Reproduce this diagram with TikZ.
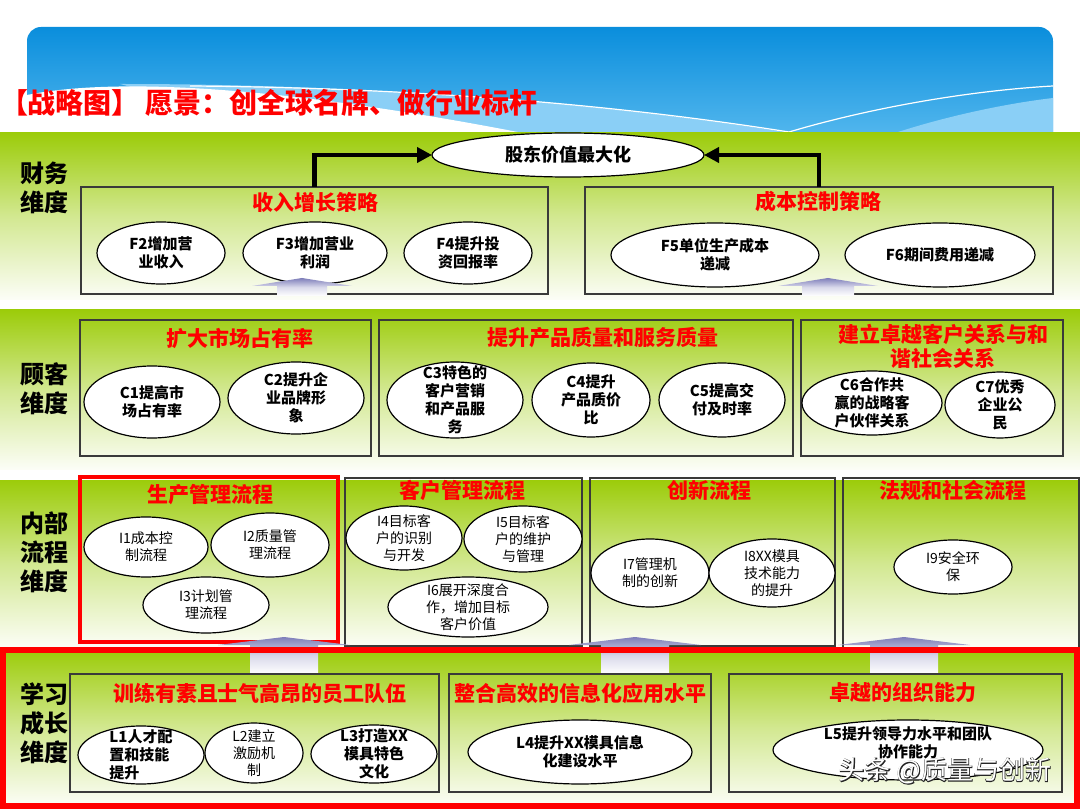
\documentclass[tikz,border=0pt]{standalone}
\usepackage{fontspec}
\setmainfont{Noto Sans CJK SC}
\newfontfamily\markedge[FakeBold=4]{Noto Sans CJK SC}
\usetikzlibrary{shapes.geometric,arrows.meta}
\definecolor{bandgreen}{HTML}{9CCC0A}
\definecolor{skytop}{HTML}{0A8EDC}
\definecolor{skybot}{HTML}{5CBCF0}
\definecolor{skylight}{HTML}{8ACFF6}
\definecolor{boxline}{HTML}{3A3A3A}
\definecolor{liftblue}{HTML}{7E7EBA}
\tikzset{every node/.style={inner sep=0pt,outer sep=0pt,font=\fontsize{15}{18}\selectfont},
  panel/.style={draw=boxline,line width=1.5pt},
  redpanel/.style={draw=red,line width=3.5pt},
  aim/.style={ellipse,draw=black,fill=white,line width=1.2pt},
  aimtxt/.style={align=center,font=\fontsize{15}{18}\selectfont\bfseries},
  proctxt/.style={align=center,font=\fontsize{14}{17}\selectfont},
  ptitle/.style={text=red,align=center,font=\fontsize{21}{24}\selectfont\bfseries},
  dimlabel/.style={align=center,font=\fontsize{24}{29}\selectfont\bfseries}}
\newcommand{\band}[2]{%
  \shade[top color=bandgreen,bottom color=white!97!bandgreen,middle color=bandgreen!45!white]
    (0,#1) rectangle (1080,#2);}
\newcommand{\stratbox}[8][panel]{%
  \pgfmathsetmacro{\bw}{#5-#3}\pgfmathsetmacro{\bh}{#6-#4}%
  \node[#1,minimum width=\bw pt,minimum height=\bh pt] (#2) at ({(#3+#5)/2},{(#4+#6)/2}) {};
  \node[ptitle] (#2t) at (#7) {#8};}
\newcommand{\aim}[7][aimtxt]{%
  \node[aim,minimum width={2*#5pt},minimum height={2*#6pt}] (#2) at (#3,#4) {};
  \node[#1] (#2t) at (#2) {#7};}
\newcommand{\lift}[5]{%
  \shade[top color=liftblue,bottom color=white,middle color=liftblue!30!white]
    (#1,#2) -- ({#1+#4},{#2+8}) -- ({#1+#5},{#2+8}) -- ({#1+#5},#3)
    -- ({#1-#5},#3) -- ({#1-#5},{#2+8}) -- ({#1-#4},{#2+8}) -- cycle;}

\begin{document}
\begin{tikzpicture}[x=1pt,y=-1pt,
    flow/.style={line width=4.5pt,-{Triangle[length=15pt,width=15pt]}},
    wmark/.style={font=\fontsize{26}{28}\selectfont}]
  \path[use as bounding box] (0,0) rectangle (1080,810);

  % Banner
  \shade[top color=skytop,bottom color=skybot,rounded corners=14pt] (27,27) rectangle (1053,150);
  \fill[skylight] (120,84) .. controls (380,84) and (620,105) .. (790,133) -- (300,133) -- cycle;
  \fill[skylight] (895,133) .. controls (950,115) and (1010,103) .. (1053,98) -- (1053,133) -- cycle;
  \fill[white] (27,95) .. controls (110,78) and (270,84) .. (523,133) -- (27,133) -- cycle;
  \draw[white,line width=1.2pt] (190,86) .. controls (450,88) and (650,110) .. (789,132)
    .. controls (880,105) and (980,90) .. (1053,86);

  % Bands
  \band{133}{300}
  \band{310}{470}
  \band{480}{648}
  \band{650}{806}

  \node[anchor=west,text=red,font=\fontsize{28}{30}\selectfont\bfseries] (headline) at (0,103)
    {【战略图】\hspace{6pt}愿景：创全球名牌、做行业标杆};

  \node[dimlabel] (dimfin) at (44,188) {财务\\维度};
  \node[dimlabel] (dimcus) at (44,389) {顾客\\维度};
  \node[dimlabel] (dimpro) at (44,552) {内部\\流程\\维度};
  \node[dimlabel] (dimlrn) at (44,723) {学习\\成长\\维度};

  % Financial
  \node[aim,minimum width=272pt,minimum height=44pt,font=\fontsize{18}{20}\selectfont\bfseries]
    (goal) at (568,155) {股东价值最大化};
  \stratbox{rev}{81}{187}{548}{294}{315,202}{收入增长策略}
  \stratbox{cost}{585}{187}{1053}{294}{818,202}{成本控制策略}
  \aim{f2}{161}{253}{64}{31}{F2增加营\\业收入}
  \aim{f3}{315}{253}{72}{31}{F3增加营业\\利润}
  \aim{f4}{468}{253}{64}{31}{F4提升投\\资回报率}
  \aim{f5}{715}{255}{104}{32}{F5单位生产成本\\递减}
  \aim{f6}{940}{255}{95}{32}{F6期间费用递减}
  \lift{302}{278}{296}{50}{25}
  \lift{828}{278}{296}{50}{26}
  \draw[flow] (rev.north) |- (goal.west);
  \draw[flow] (cost.north) |- (goal.east);

  % Customer
  \stratbox{share}{80}{320}{371}{456}{240,338}{扩大市场占有率}
  \stratbox{quality}{379}{320}{793}{456}{603,338}{提升产品质量和服务质量}
  \stratbox{bond}{801}{320}{1063}{456}{943,346}{建立卓越客户关系与和\\谐社会关系}
  \aim{c1}{152}{402}{68}{36}{C1提高市\\场占有率}
  \aim{c2}{296}{398}{68}{36}{C2提升企\\业品牌形\\象}
  \aim{c3}{455}{400}{68}{38}{C3特色的\\客户营销\\和产品服\\务}
  \aim{c4}{591}{400}{59}{37}{C4提升\\产品质价\\比}
  \aim{c5}{722}{400}{63}{37}{C5提高交\\付及时率}
  \aim{c6}{872}{403}{70}{32}{C6合作共\\赢的战略客\\户伙伴关系}
  \aim{c7}{1000}{405}{55}{33}{C7优秀\\企业公\\民}

  % Internal process
  \stratbox[redpanel]{make}{80}{477}{338}{642}{210,495}{生产管理流程}
  \stratbox{client}{345}{478}{582}{646}{462,490}{客户管理流程}
  \stratbox{novel}{590}{478}{835}{646}{709,490}{创新流程}
  \stratbox{rule}{843}{478}{1079}{650}{953,490}{法规和社会流程}
  \aim[proctxt]{i1}{146}{547}{62}{30}{I1成本控\\制流程}
  \aim[proctxt]{i2}{270}{545}{59}{32}{I2质量管\\理流程}
  \aim[proctxt]{i3}{206}{605}{63}{28}{I3计划管\\理流程}
  \aim[proctxt]{i4}{404}{538}{58}{32}{I4目标客\\户的识别\\与开发}
  \aim[proctxt]{i5}{523}{539}{59}{33}{I5目标客\\户的维护\\与管理}
  \aim[proctxt]{i6}{468}{607}{80}{30}{I6展开深度合\\作，增加目标\\客户价值}
  \aim[proctxt]{i7}{650}{573}{59}{34}{I7管理机\\制的创新}
  \aim[proctxt]{i8}{772}{573}{63}{34}{I8XX模具\\技术能力\\的提升}
  \aim[proctxt]{i9}{953}{567}{59}{27}{I9安全环\\保}

  % Learning and growth
  \lift{284}{637}{674}{66}{34}
  \lift{635}{637}{674}{66}{34}
  \lift{904}{637}{674}{66}{34}
  \stratbox{staff}{70}{674}{439}{792}{260,693}{训练有素且士气高昂的员工队伍}
  \stratbox{info}{449}{674}{711}{792}{580,693}{整合高效的信息化应用水平}
  \stratbox{org}{729}{674}{1062}{792}{903,693}{卓越的组织能力}
  \aim[aimtxt,align=left]{l1}{141}{755}{63}{29}{L1人才配\\置和技能\\提升}
  \aim[proctxt]{l2}{254}{753}{49}{30}{L2建立\\激励机\\制}
  \aim{l3}{374}{754}{63}{29}{L3打造XX\\模具特色\\文化}
  \aim{l4}{580}{752}{112}{32}{L4提升XX模具信息\\化建设水平}
  \aim[aimtxt,yshift=7pt]{l5}{908}{750}{135}{30}{L5提升领导力水平和团队\\协作能力}
  \draw[red,line width=6.5pt] (3,650) rectangle (1077,806);

  % Watermark
  \node[wmark,text=black!85,font=\markedge\fontsize{26}{28}\selectfont] (wmedge) at (945,771) {头条 @质量与创新};
  \node[wmark,text=white] (wmface) at (945,771) {头条 @质量与创新};
\end{tikzpicture}
\end{document}
